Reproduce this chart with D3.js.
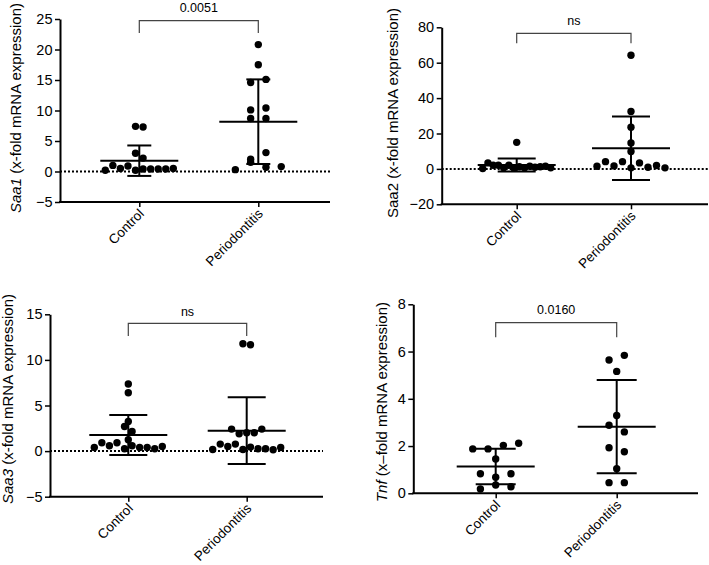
<!DOCTYPE html>
<html><head><meta charset="utf-8">
<script src="https://cdn.jsdelivr.net/npm/d3@7"></script>
<style>
body{margin:0;background:#fff}
svg{display:block}
text{font-family:"Liberation Sans",Arial,sans-serif;fill:#000}
</style>
</head><body>
<svg id="c" width="709" height="565"></svg>
<script>
// ---- data ----
const categories = ["Control", "Periodontitis"];

const saa1Control = [0.2, 1.0, 0.5, 0.9, 0.2, 7.4, 7.3, 3.0, 0.4, 2.2, 0.4, 0.4, 0.4, 0.5];
const saa1Perio   = [0.3, 2.0, 1.5, 3.1, 0.7, 0.8, 8.7, 8.7, 10.1, 10.4, 14.6, 15.1, 17.5, 20.8];
const saa1Ticks   = [-5, 0, 5, 10, 15, 20, 25];

const saa2Control = [0.2, 3.4, 2.1, 2.1, 0.6, 2.1, 0.3, 15.0, 1.2, 0.6, 1.5, 0.9, 1.2, 1.5, 0.6];
const saa2Perio   = [1.5, 4.1, 1.7, 4.1, 64.2, 32.5, 23.5, 14.6, 9.8, 0.6, 3.4, 0.9, 1.9, 0.6];
const saa2Ticks   = [-20, 0, 20, 40, 60, 80];

const saa3Control = [0.40, 0.91, 0.58, 0.91, 0.26, 7.35, 6.40, 2.70, 3.25, 2.16, 0.58, 1.24, 0.40, 0.40, 0.26, 0.51];
const saa3Perio   = [0.18, 0.77, 0.51, 0.77, 2.41, 11.77, 0.18, 1.90, 11.66, 0.44, 2.01, 0.26, 2.01, 0.26, 2.41, 0.15, 0.40];
const saa3Ticks   = [-5, 0, 5, 10, 15];

const tnfControl  = [1.88, 1.88, 2.03, 2.12, 1.45, 0.83, 0.68, 0.83, 0.18, 0.35, 0.28];
const tnfPerio    = [5.64, 5.84, 5.16, 3.29, 2.88, 2.60, 1.93, 1.76, 1.04, 0.45, 0.45];
const tnfTicks    = [0, 2, 4, 6, 8];

const pLabels = ["0.0051", "ns", "ns", "0.0160"];

// ---- panel layout (positions/styles) ----
const panels = [
  {gene:"Saa1", italic:true, rest:" (x-fold mRNA expression)", groups:[saa1Control, saa1Perio], ticks:saa1Ticks,
   domain:[-5,25], p:pLabels[0], ax:60, xEnd:330, yTop:19, yBot:202, cx:[139.3,258.3],
   bY:20.7, bLeg:33, pY:12.3, lX:16, lY:108, zero:true, cap:12},
  {gene:"Saa2", italic:false, rest:" (x-fold mRNA expression)", groups:[saa2Control, saa2Perio], ticks:saa2Ticks,
   domain:[-20,80], p:pLabels[1], ax:441.7, xEnd:708, yTop:27.3, yBot:204.3, cx:[516.7,631],
   bY:33.3, bLeg:43.3, pY:25, lX:393, lY:113, zero:true, cap:19},
  {gene:"Saa3", italic:true, rest:" (x-fold mRNA expression)", groups:[saa3Control, saa3Perio], ticks:saa3Ticks,
   domain:[-5,15], p:pLabels[2], ax:50, xEnd:323, yTop:314.3, yBot:496.7, cx:[128.3,246.7],
   bY:323.3, bLeg:336, pY:315.5, lX:8, lY:399, zero:true, cap:19},
  {gene:"Tnf", italic:true, rest:" (x\u2013fold mRNA expression)", groups:[tnfControl, tnfPerio], ticks:tnfTicks,
   domain:[0,8], p:pLabels[3], ax:413.3, xEnd:698, yTop:304.3, yBot:493.3, cx:[495.7,616.7],
   bY:322.7, bLeg:337.3, pY:314.3, lX:382, lY:402, zero:false, cap:20}
];

const svg = d3.select("#c");
const R = 3.7;
const FONT = '"Liberation Sans",Arial,sans-serif';

function swarm(values, y) {
  const idx = values.map((v, i) => i).sort((a, b) => values[a] - values[b] || a - b);
  const rows = [];
  let cur = null;
  idx.forEach(i => {
    if (cur && Math.abs(y(values[i]) - y(values[cur[0]])) <= 7.6) cur.push(i);
    else { cur = [i]; rows.push(cur); }
  });
  const maxN = d3.max(rows, r => r.length);
  const s = maxN > 1 ? Math.min(15.3, 68 / (maxN - 1)) : 15.3;
  const off = new Array(values.length).fill(0);
  rows.forEach(r => {
    r.sort((a, b) => a - b);
    r.forEach((i, k) => { off[i] = (k - (r.length - 1) / 2) * s; });
  });
  return off;
}

panels.forEach(P => {
  const g = svg.append("g");
  const y = d3.scaleLinear().domain(P.domain).range([P.yBot, P.yTop]);
  const x = d3.scalePoint().domain(categories).range(P.cx);

  if (P.zero) {
    g.append("line").attr("x1", P.ax).attr("x2", P.xEnd).attr("y1", y(0)).attr("y2", y(0))
      .attr("stroke", "#000").attr("stroke-width", 2).attr("stroke-dasharray", "2,2");
  }

  const ya = g.append("g").attr("transform", `translate(${P.ax},0)`)
    .call(d3.axisLeft(y).tickValues(P.ticks).tickSize(5).tickSizeOuter(0).tickPadding(2.5).tickFormat(d3.format("d")));
  ya.select(".domain").attr("stroke-width", 2);
  ya.selectAll(".tick line").attr("stroke-width", 1.5);
  ya.selectAll(".tick text").attr("font-size", 14.5).attr("font-family", FONT);

  const xa = g.append("g").attr("transform", `translate(0,${P.yBot})`)
    .call(d3.axisBottom(x).tickSize(5).tickSizeOuter(0));
  xa.select(".domain").remove();
  xa.selectAll(".tick line").attr("stroke-width", 1.5);
  xa.selectAll(".tick text")
    .attr("font-size", 13.5).attr("font-family", FONT)
    .attr("text-anchor", "end").attr("x", 0).attr("y", 0).attr("dy", 0)
    .attr("transform", "translate(5,12.5) rotate(-45)");
  g.append("line").attr("x1", P.ax - 1).attr("x2", P.xEnd).attr("y1", P.yBot).attr("y2", P.yBot)
    .attr("stroke", "#000").attr("stroke-width", 2);

  const t = g.append("text").attr("transform", `translate(${P.lX},${P.lY}) rotate(-90)`)
    .attr("text-anchor", "middle").attr("dy", "0.35em").attr("font-size", 15);
  t.append("tspan").attr("font-style", P.italic ? "italic" : "normal").text(P.gene);
  t.append("tspan").text(P.rest);

  P.groups.forEach((vals, gi) => {
    const c = x(categories[gi]);
    const off = swarm(vals, y);
    g.append("g").selectAll("circle").data(vals).join("circle")
      .attr("cx", (d, i) => c + off[i]).attr("cy", d => y(d)).attr("r", R).attr("fill", "#000");
    const m = d3.mean(vals), sd = d3.deviation(vals);
    const eb = g.append("g").attr("stroke", "#000").attr("stroke-width", 2);
    eb.append("line").attr("x1", c).attr("x2", c).attr("y1", y(m - sd)).attr("y2", y(m + sd));
    eb.append("line").attr("x1", c - 39).attr("x2", c + 39).attr("y1", y(m)).attr("y2", y(m));
    [m - sd, m + sd].forEach(v => eb.append("line").attr("x1", c - P.cap).attr("x2", c + P.cap).attr("y1", y(v)).attr("y2", y(v)));
  });

  const [c1, c2] = categories.map(x);
  g.append("path").attr("d", `M${c1},${P.bLeg}V${P.bY}H${c2}V${P.bLeg}`)
    .attr("fill", "none").attr("stroke", "#444").attr("stroke-width", 1.2);
  g.append("text").attr("x", (c1 + c2) / 2).attr("y", P.pY).attr("text-anchor", "middle")
    .attr("font-size", 12.5).text(P.p);
});
</script>
</body></html>
